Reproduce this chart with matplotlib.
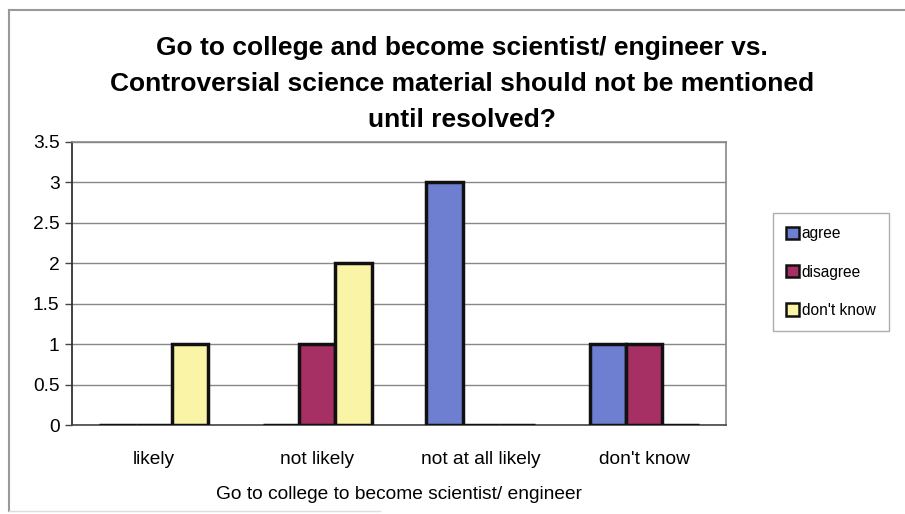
import matplotlib
matplotlib.use("Agg")
import matplotlib.pyplot as plt
import numpy as np
from matplotlib.lines import Line2D

plt.rcParams['font.family'] = ['Liberation Sans', 'DejaVu Sans']

categories = ["likely", "not likely", "not at all likely", "don't know"]
series = ["agree", "disagree", "don't know"]
agree = [0, 0, 3, 1]
disagree = [0, 1, 0, 1]
dont_know = [1, 2, 0, 0]
colors = ["#6E7ED0", "#A62F63", "#FAF4A6"]
y_ticks = [0, 0.5, 1, 1.5, 2, 2.5, 3, 3.5]
y_tick_labels = ["0", "0.5", "1", "1.5", "2", "2.5", "3", "3.5"]

W, H = 905, 514
fig = plt.figure(figsize=(W / 100, H / 100), dpi=100)
fig.patch.set_facecolor("white")

# outer chart frame
fig.add_artist(Line2D([9 / W, 9 / W], [1 - 10 / H, 1 - 511 / H], color="#999999", lw=1.5))
fig.add_artist(Line2D([9 / W, 1.0], [1 - 10 / H, 1 - 10 / H], color="#999999", lw=1.5))
fig.add_artist(Line2D([9 / W, 380 / W], [1 - 511 / H, 1 - 511 / H], color="#dddddd", lw=1.0))

left, right, top, bottom = 72, 726, 142, 425
ax = fig.add_axes([left / W, 1 - bottom / H, (right - left) / W, (bottom - top) / H])

x = np.arange(len(categories))
bw = 1 / 4.5
data = [agree, disagree, dont_know]
for i, (vals, c) in enumerate(zip(data, colors)):
    ax.bar(x + (i - 1) * bw, vals, width=bw, color=c, edgecolor="#111111",
           linewidth=2.5, zorder=3, label=series[i])

ax.set_xlim(-0.5, len(categories) - 0.5)
ax.set_ylim(0, 3.5)
ax.set_yticks(y_ticks)
ax.set_yticklabels(y_tick_labels, fontsize=13.8)
ax.set_xticks(x)
ax.set_xticklabels(categories, fontsize=13.8)
ax.tick_params(axis="x", length=0, pad=19)
ax.tick_params(axis="y", length=5, width=1, color="#444444", pad=4, direction="out")
ax.yaxis.grid(True, color="#888888", linewidth=1.0, zorder=0)
ax.set_axisbelow(True)
for s in ["top", "right"]:
    ax.spines[s].set_color("#888888")
    ax.spines[s].set_linewidth(1.2)
ax.spines["left"].set_color("#333333")
ax.spines["left"].set_linewidth(1.3)
ax.spines["bottom"].set_color("#444444")
ax.spines["bottom"].set_linewidth(1.2)

ax.set_xlabel("Go to college to become scientist/ engineer", fontsize=13.8, labelpad=13)

fig.text(462 / W, 1 - 84 / H,
         "Go to college and become scientist/ engineer vs.\n"
         "Controversial science material should not be mentioned\n"
         "until resolved?",
         ha="center", va="center", fontsize=19, fontweight="bold",
         linespacing=1.63)

leg = ax.legend(loc="upper left", bbox_to_anchor=(773 / W, 1 - 213 / H),
                bbox_transform=fig.transFigure, frameon=True, fancybox=False,
                fontsize=11.2, handlelength=0.85, handleheight=0.85,
                handletextpad=0.15, labelspacing=1.5, borderpad=0.85,
                borderaxespad=0)
leg.get_frame().set_edgecolor("#999999")
leg.get_frame().set_linewidth(1.0)
for h in leg.legend_handles:
    h.set_linewidth(1.8)

fig.savefig("out.png", dpi=100)
